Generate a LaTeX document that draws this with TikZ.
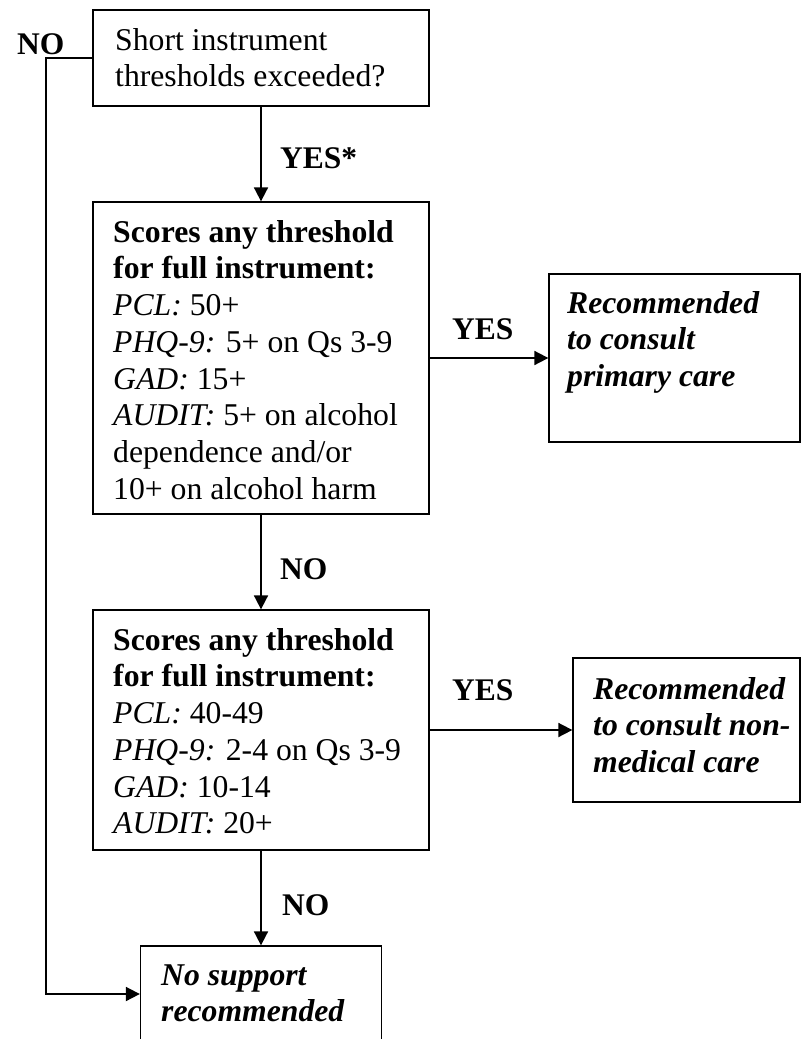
\documentclass[tikz,border=0pt]{standalone}
\usepackage{fontspec}
\setmainfont{Liberation Serif}
\usetikzlibrary{arrows.meta}
\newcommand{\firststrut}{\rule{0pt}{30pt}}
\begin{document}
\begin{tikzpicture}[x=1pt,y=-1pt,
  boxshape/.style={draw, line width=1.3pt, inner sep=0pt, rectangle},
  txt/.style={anchor=north west, inner sep=0pt, align=left, font=\fontsize{31.7}{36.7}\selectfont},
  lbl/.style={anchor=base west, inner sep=0pt, font=\fontsize{31.5}{36.7}\selectfont\bfseries},
  conn/.style={line width=1.8pt, -{Triangle[length=14pt,width=14pt]}}]
\useasboundingbox (0,0) rectangle (802,1039);
\clip (0,0) rectangle (802,1039);

% boxes
\node[boxshape, minimum width=336pt, minimum height=96pt] (box1) at (261,58) {};
\node[boxshape, minimum width=336pt, minimum height=312pt] (box2) at (261,358) {};
\node[boxshape, minimum width=251pt, minimum height=168pt] (box3) at (674.5,358) {};
\node[boxshape, minimum width=336pt, minimum height=240pt] (box4) at (261,730) {};
\node[boxshape, minimum width=227pt, minimum height=144pt] (box5) at (686.5,730) {};
\node[boxshape, minimum width=241pt, minimum height=96pt] (box6) at (261,994) {};

% texts
\node[txt] (t1) at (115,20) {\firststrut Short instrument\\thresholds exceeded?};
\node[txt] (t2) at (113,212) {\firststrut\textbf{Scores any threshold}\\\textbf{for full instrument:}\\\textit{PCL:} 50+\\\textit{PHQ-9:} 5+ on Qs 3-9\\\textit{GAD:} 15+\\\textit{AUDIT:} 5+ on alcohol\\dependence and/or\\10+ on alcohol harm};
\node[txt, font=\fontsize{31.7}{36.7}\selectfont\bfseries\itshape] (t3) at (567,283) {\firststrut Recommended\\to consult\\primary care};
\node[txt] (t4) at (113,620) {\firststrut\textbf{Scores any threshold}\\\textbf{for full instrument:}\\\textit{PCL:} 40-49\\\textit{PHQ-9:} 2-4 on Qs 3-9\\\textit{GAD:} 10-14\\\textit{AUDIT:} 20+};
\node[txt, font=\fontsize{31.7}{36.7}\selectfont\bfseries\itshape] (t5) at (593,669) {\firststrut Recommended\\to consult non-\\medical care};
\node[txt, font=\fontsize{31.7}{36.7}\selectfont\bfseries\itshape] (t6) at (161,955) {\firststrut No support\\recommended};

% labels
\node[lbl] (lno1) at (17,54) {NO};
\node[lbl] (lyes0) at (280,168) {YES*};
\node[lbl] (lyes1) at (452,339) {YES};
\node[lbl] (lno2) at (280,579) {NO};
\node[lbl] (lyes2) at (452,700) {YES};
\node[lbl] (lno3) at (282,915) {NO};

% connectors
\draw[conn] (box1.south) -- (box2.north);
\draw[conn] (box2.east) -- (box3.west);
\draw[conn] (box2.south) -- (box4.north);
\draw[conn] (box4.east) -- (box5.west);
\draw[conn] (box4.south) -- (box6.north);
\coordinate (nocorner) at (46,58);
\draw[conn] (box1.west) -- (nocorner) |- (box6.west);
\end{tikzpicture}
\end{document}
